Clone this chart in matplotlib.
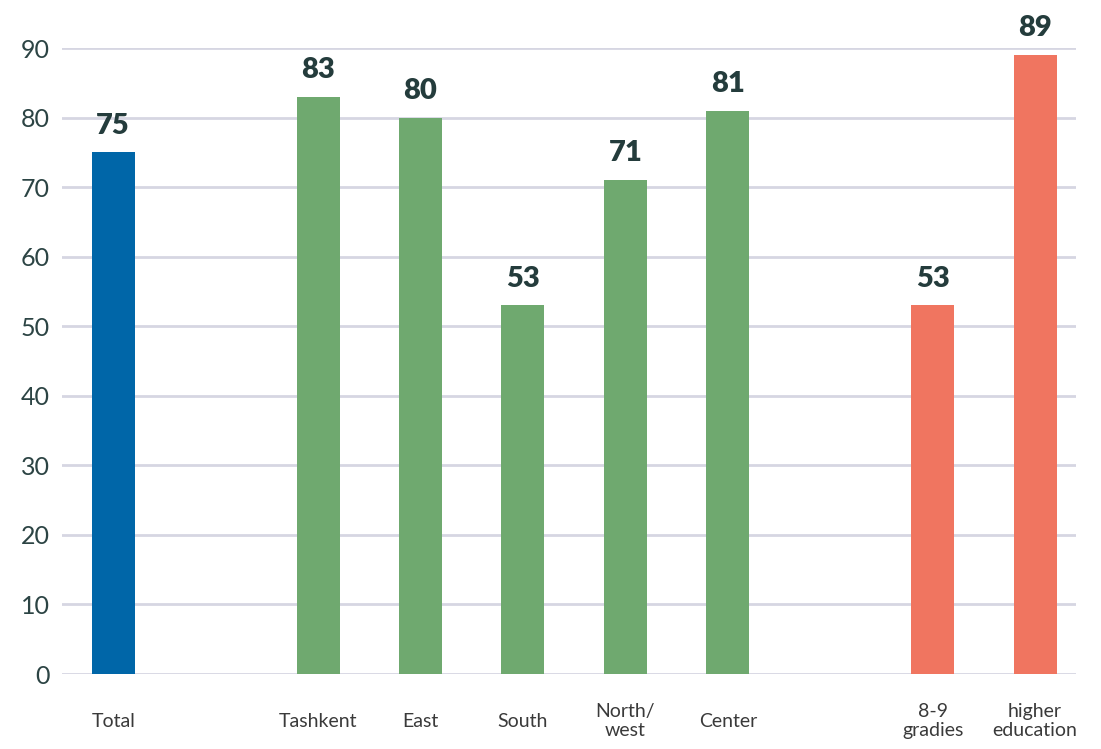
import matplotlib.pyplot as plt

categories = ["Total", "Tashkent", "East", "South", "North/\nwest", "Center", "8-9\ngradies", "higher\neducation"]
values = [75, 83, 80, 53, 71, 81, 53, 89]
positions = [0, 2, 3, 4, 5, 6, 8, 9]
colors = ["#0066a8", "#6fa96f", "#6fa96f", "#6fa96f", "#6fa96f", "#6fa96f", "#f07560", "#f07560"]

plt.rcParams['font.family'] = ['Lato', 'DejaVu Sans']

fig = plt.figure(figsize=(11.01, 7.49), dpi=100)
ax = fig.add_axes([0.0563, 0.1001, 0.9210, 0.8357])

ax.bar(positions, values, width=0.42, color=colors, zorder=3)
for x, v in zip(positions, values):
    ax.annotate(str(v), (x, v), xytext=(0, 10), textcoords="offset points",
                ha="center", va="bottom", fontsize=21, fontweight="heavy",
                color="#243c3c", clip_on=False)

ax.set_ylim(0, 90)
ax.set_xlim(-0.5, 9.4)
ax.set_yticks(range(0, 91, 10))
ax.yaxis.grid(True, color="#d6d6e2", linewidth=2.0, zorder=0)
ax.set_xticks(positions)
ax.set_xticklabels(categories, fontsize=14, color="#3a3a3a", linespacing=1.15)
for lbl in ax.get_xticklabels():
    lbl.set_va("center")
ax.tick_params(axis="x", length=0, pad=34)
ax.tick_params(axis="y", length=0, pad=9, labelsize=18, labelcolor="#2c4444")
for s in ax.spines.values():
    s.set_visible(False)

fig.savefig("out.png", dpi=100)
